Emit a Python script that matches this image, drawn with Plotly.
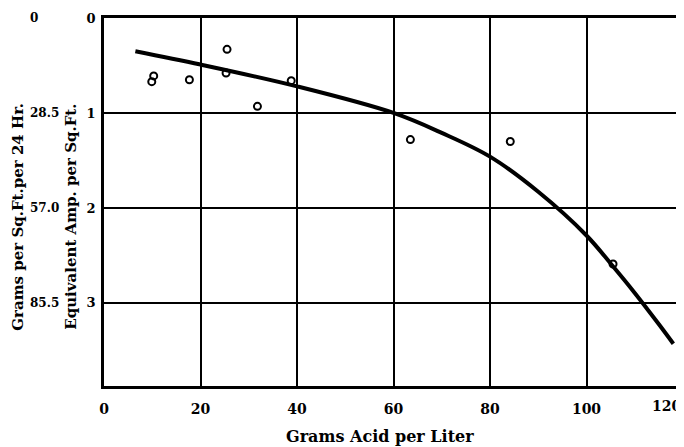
import plotly.graph_objects as go

# Smooth curve (Grams acid per liter vs equivalent amp per sq.ft.)
curve_x = [6.5, 20, 40, 60, 70, 80, 90, 100, 105, 110, 115, 118]
curve_y = [0.35, 0.49, 0.72, 1.0, 1.21, 1.46, 1.83, 2.29, 2.585, 2.895, 3.225, 3.43]

# Observed points
pts_x = [10.3, 9.9, 17.7, 25.5, 25.3, 31.8, 38.8, 63.5, 84.2, 105.5]
pts_y = [0.61, 0.67, 0.65, 0.33, 0.58, 0.93, 0.66, 1.28, 1.30, 2.59]

# Axis ticks
x_ticks = [0, 20, 40, 60, 80, 100, 120]
amp_ticks = [0, 1, 2, 3]
amp_labels = ["0", "1", "2", "3"]
gram_labels = ["0", "28.5", "57.0", "85.5"]

FONT = "DejaVu Serif"
L, R, T, B = 96, 9, 10, 69
PW = 684 - L - R

fig = go.Figure()
fig.add_trace(go.Scatter(x=curve_x, y=curve_y, mode="lines",
                         line=dict(color="black", width=4, shape="spline", smoothing=1.0),
                         showlegend=False, hoverinfo="skip"))
fig.add_trace(go.Scatter(x=pts_x, y=pts_y, mode="markers",
                         marker=dict(symbol="circle-open", size=7, color="black",
                                     line=dict(width=2, color="black")),
                         showlegend=False))

annotations = []
for v, t in zip(amp_ticks, gram_labels):
    annotations.append(dict(x=-76 / PW, xref="paper", y=v, yref="y", text="<b>%s</b>" % t,
                            showarrow=False, xanchor="left", yanchor="middle",
                            font=dict(family=FONT, size=12, color="black")))
annotations.append(dict(x=-86 / PW, xref="paper", y=0.46, yref="paper",
                        text="<b>Grams per Sq.Ft.per 24 Hr.</b>", textangle=-90,
                        showarrow=False, xanchor="center", yanchor="middle",
                        font=dict(family=FONT, size=15, color="black")))
annotations.append(dict(x=-33 / PW, xref="paper", y=0.46, yref="paper",
                        text="<b>Equivalent Amp. per Sq.Ft.</b>", textangle=-90,
                        showarrow=False, xanchor="center", yanchor="middle",
                        font=dict(family=FONT, size=15, color="black")))
annotations.append(dict(x=(372 - L) / PW, xref="paper", y=-50 / (447 - T - B), yref="paper",
                        text="<b>Grams Acid per Liter</b>",
                        showarrow=False, xanchor="center", yanchor="middle",
                        font=dict(family=FONT, size=16, color="black")))
# last x tick label sits flush against the right edge of the page
annotations.append(dict(x=x_ticks[-1], xref="x", y=0, yref="paper",
                        text="<b>%d</b>" % x_ticks[-1], showarrow=False,
                        xanchor="right", yanchor="top", xshift=0, yshift=-10,
                        font=dict(family=FONT, size=14, color="black")))

fig.update_layout(
    width=684, height=447,
    margin=dict(l=L, r=R, t=T, b=B),
    paper_bgcolor="white", plot_bgcolor="white",
    annotations=annotations,
    xaxis=dict(range=[0, 120], tickvals=x_ticks[:-1], ticktext=["<b>%d</b>" % v for v in x_ticks[:-1]],
               showgrid=True, gridcolor="black", gridwidth=2,
               showline=True, linecolor="black", linewidth=2.5, mirror=True,
               zeroline=False, ticks="", automargin=False, ticklabelstandoff=8,
               tickfont=dict(family=FONT, size=14, color="black")),
    yaxis=dict(range=[3.875, 0], tickvals=amp_ticks, ticktext=["<b>%s</b>" % t for t in amp_labels],
               showgrid=True, gridcolor="black", gridwidth=2,
               showline=True, linecolor="black", linewidth=2.5, mirror=True,
               zeroline=False, ticks="", automargin=False, ticklabelstandoff=3,
               tickfont=dict(family=FONT, size=13, color="black")),
)

fig.write_html("out.html")
